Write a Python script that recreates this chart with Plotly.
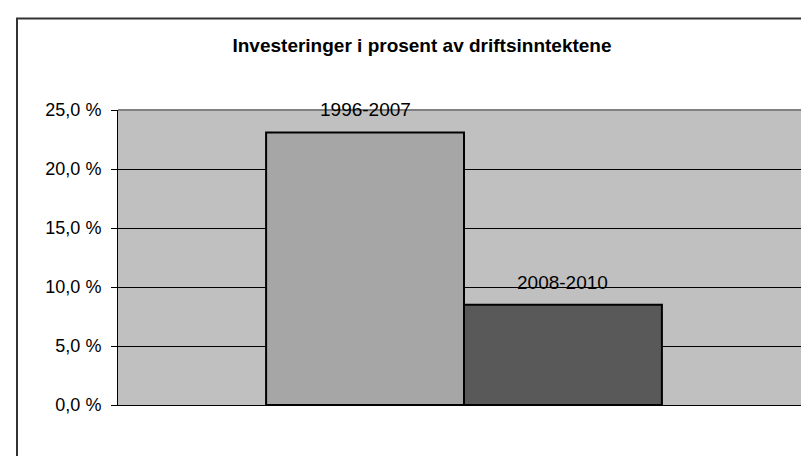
import plotly.graph_objects as go

title = "Investeringer i prosent av driftsinntektene"
series_names = ["1996-2007", "2008-2010"]
series_values = [23.1, 8.5]
bar_colors = ["#A6A6A6", "#595959"]
category = [""]

W, H = 809, 456
L, R, T, B = 110, 7, 102, 59
bargap = 0.428
bar_w = (1 - bargap) / len(series_names)

fig = go.Figure()
for i, (name, val, col) in enumerate(zip(series_names, series_values, bar_colors)):
    fig.add_trace(go.Bar(
        x=category, y=[val], name=name,
        marker=dict(color=col, line=dict(color="black", width=2)),
        showlegend=False, hoverinfo="skip",
    ))
    offset = -(1 - bargap) / 2 + bar_w * (i + 0.5)
    fig.add_annotation(
        x=offset, y=val, xref="x", yref="y", text=name, showarrow=False,
        yanchor="bottom", yshift=10,
        font=dict(family="Liberation Sans, Arial", size=19, color="black"),
    )

pw = W - L - R
ph = H - T - B
bx0 = (9 - L) / pw
by1 = (H - B - 10.5) / ph

fig.add_shape(type="rect", xref="paper", yref="paper",
              x0=bx0, x1=1.3, y0=-0.5, y1=by1,
              line=dict(color="#333333", width=2), layer="below")
# plot area top/right border
fig.add_shape(type="line", xref="paper", yref="paper", x0=0, x1=1, y0=1, y1=1,
              line=dict(color="#808080", width=2))
fig.add_shape(type="line", xref="paper", yref="paper", x0=1, x1=1, y0=0, y1=1,
              line=dict(color="#808080", width=2))

fig.update_layout(
    width=W, height=H,
    margin=dict(l=L, r=R, t=T, b=B, autoexpand=False),
    paper_bgcolor="white", plot_bgcolor="#C0C0C0",
    barmode="group", bargap=bargap, bargroupgap=0,
    separators=", ",
    title=dict(text="<b>" + title + "</b>", x=414 / W, xanchor="center",
               y=1 - 37 / H, yanchor="middle",
               font=dict(family="Liberation Sans, Arial", size=19, color="black")),
    font=dict(family="Liberation Sans, Arial", color="black"),
)
fig.update_xaxes(range=[-0.5, 0.5], showticklabels=False, showgrid=False,
                 showline=True, linecolor="black", linewidth=1, ticks="", zeroline=False)
fig.update_yaxes(range=[0, 25], dtick=5, tickformat=".1f", ticksuffix=" %",
                 showgrid=True, gridcolor="black", gridwidth=1,
                 showline=True, linecolor="black", linewidth=1,
                 ticks="outside", ticklen=6, tickcolor="black",
                 ticklabelstandoff=6,
                 tickfont=dict(family="Liberation Sans, Arial", size=18, color="black"),
                 zeroline=False)

fig.write_html("out.html")
